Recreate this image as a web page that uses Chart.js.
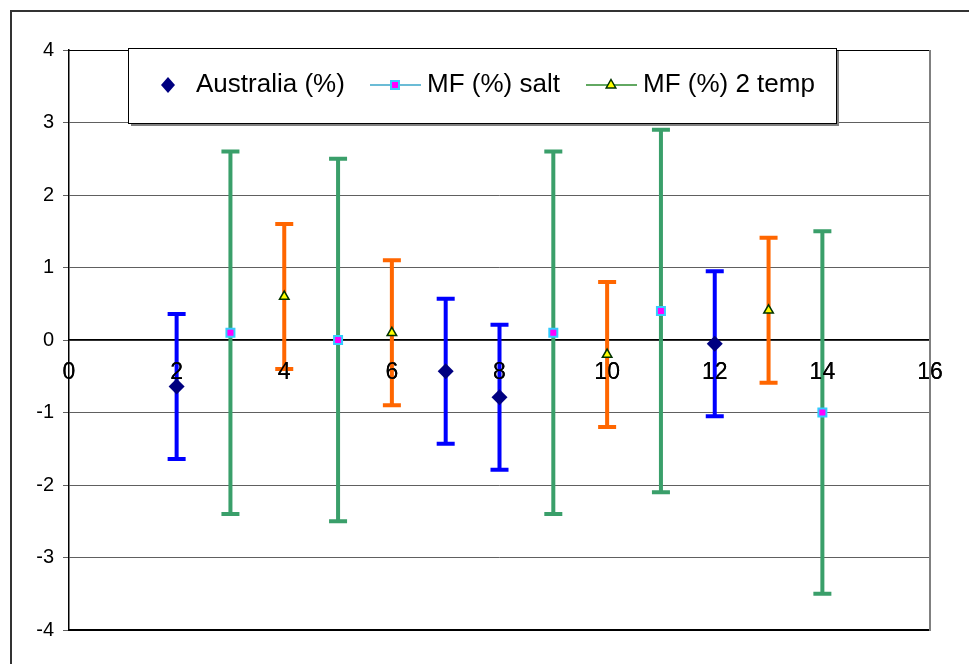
<!DOCTYPE html>
<html>
<head>
<meta charset="utf-8">
<script src="https://cdn.jsdelivr.net/npm/chart.js@4.4.1/dist/chart.umd.min.js"></script>
<style>
  html, body { margin: 0; padding: 0; background: #fff; }
  #wrap { width: 969px; height: 664px; position: relative; }
</style>
</head>
<body>
<div id="wrap"><canvas id="c" width="969" height="664"></canvas></div>
<script>
// ---- data ----
const seriesLabels = ['Australia (%)', 'MF (%) salt', 'MF (%) 2 temp'];
const ausX = [2, 7, 8, 12];
const ausY = [-0.64, -0.43, -0.79, -0.05];
const ausErr = [1, 1, 1, 1];
const saltX = [3, 5, 9, 11, 14];
const saltY = [0.1, 0, 0.1, 0.4, -1];
const saltErr = [2.5, 2.5, 2.5, 2.5, 2.5];
const tempX = [4, 6, 10, 13];
const tempY = [0.6, 0.1, -0.2, 0.41];
const tempErr = [1, 1, 1, 1];
const xTickValues = [0, 2, 4, 6, 8, 10, 12, 14, 16];
const yTickValues = [-4, -3, -2, -1, 0, 1, 2, 3, 4];

const FONT = "'Liberation Sans', Arial, sans-serif";

function pts(xs, ys, es) {
  return xs.map((x, i) => ({ x: x, y: ys[i], err: es[i] }));
}

const errColors = ['#0000FF', '#3A9F6A', '#FF6600'];

const errorBarPlugin = {
  id: 'errorBars',
  beforeDatasetsDraw(chart) {
    const ctx = chart.ctx;
    const xs = chart.scales.x, ys = chart.scales.y;
    ctx.save();
    chart.data.datasets.forEach((ds, di) => {
      ctx.strokeStyle = errColors[di];
      ctx.lineWidth = 4;
      ctx.lineCap = 'butt';
      ds.data.forEach(p => {
        const px = xs.getPixelForValue(p.x);
        const top = ys.getPixelForValue(p.y + p.err);
        const bot = ys.getPixelForValue(p.y - p.err);
        ctx.beginPath();
        ctx.moveTo(px, top);
        ctx.lineTo(px, bot);
        ctx.moveTo(px - 9, top);
        ctx.lineTo(px + 9, top);
        ctx.moveTo(px - 9, bot);
        ctx.lineTo(px + 9, bot);
        ctx.stroke();
      });
    });
    ctx.restore();
    // x tick labels are drawn above the error bars
    chart.scales.x.drawLabels(chart.chartArea);
  }
};

function drawMarker(ctx, kind, x, y) {
  ctx.save();
  if (kind === 0) {
    ctx.fillStyle = '#000080';
    ctx.beginPath();
    ctx.moveTo(x, y - 8); ctx.lineTo(x + 7, y); ctx.lineTo(x, y + 8); ctx.lineTo(x - 7, y);
    ctx.closePath(); ctx.fill();
  } else if (kind === 1) {
    ctx.fillStyle = '#FF00FF';
    ctx.strokeStyle = '#33CCFF';
    ctx.lineWidth = 2;
    ctx.fillRect(x - 4, y - 4, 8, 8);
    ctx.strokeRect(x - 4, y - 4, 8, 8);
  } else {
    ctx.fillStyle = '#FFFF00';
    ctx.strokeStyle = '#003300';
    ctx.lineWidth = 1.5;
    ctx.beginPath();
    ctx.moveTo(x, y - 5.5); ctx.lineTo(x + 4.8, y + 3); ctx.lineTo(x - 4.8, y + 3);
    ctx.closePath(); ctx.fill(); ctx.stroke();
  }
  ctx.restore();
}

const framePlugin = {
  id: 'frame',
  afterDatasetsDraw(chart) {
    const ctx = chart.ctx;
    const a = chart.chartArea;
    ctx.save();
    ctx.strokeStyle = '#000';
    ctx.lineWidth = 1;
    ctx.beginPath(); ctx.moveTo(a.left, a.top + 0.5); ctx.lineTo(a.right, a.top + 0.5); ctx.stroke();
    ctx.lineWidth = 2;
    ctx.beginPath(); ctx.moveTo(a.left, a.bottom); ctx.lineTo(a.right, a.bottom); ctx.stroke();
    ctx.strokeStyle = '#808080';
    ctx.beginPath(); ctx.moveTo(a.right, a.top); ctx.lineTo(a.right, a.bottom + 1); ctx.stroke();
    ctx.restore();
  },
  afterDraw(chart) {
    const ctx = chart.ctx;
    ctx.save();
    // outer frame
    ctx.strokeStyle = '#333';
    ctx.lineWidth = 2;
    ctx.strokeRect(11, 11, 2000, 2000);
    // legend
    const bx = 128, by = 48, bw = 708, bh = 75;
    ctx.fillStyle = '#808080';
    ctx.fillRect(bx + 3, by + 3, bw, bh);
    ctx.fillStyle = '#fff';
    ctx.fillRect(bx, by, bw, bh);
    ctx.strokeStyle = '#000';
    ctx.lineWidth = 1;
    ctx.strokeRect(bx + 0.5, by + 0.5, bw, bh);
    const cy = by + 37;
    ctx.font = '26px ' + FONT;
    ctx.fillStyle = '#000';
    ctx.textBaseline = 'middle';
    ctx.textAlign = 'left';
    drawMarker(ctx, 0, 168, cy);
    ctx.fillText(seriesLabels[0], 196, cy);
    ctx.strokeStyle = '#3AA6C8'; ctx.lineWidth = 1.5;
    ctx.beginPath(); ctx.moveTo(370, cy); ctx.lineTo(421, cy); ctx.stroke();
    drawMarker(ctx, 1, 395, cy);
    ctx.fillStyle = '#000';
    ctx.fillText(seriesLabels[1], 427, cy);
    ctx.strokeStyle = '#2E8B2E'; ctx.lineWidth = 1.5;
    ctx.beginPath(); ctx.moveTo(586, cy); ctx.lineTo(637, cy); ctx.stroke();
    drawMarker(ctx, 2, 611, cy);
    ctx.fillStyle = '#000';
    ctx.fillText(seriesLabels[2], 643, cy);
    ctx.restore();
  }
};

new Chart(document.getElementById('c'), {
  type: 'scatter',
  data: {
    datasets: [
      {
        label: seriesLabels[0],
        data: pts(ausX, ausY, ausErr),
        pointStyle: 'rectRot', radius: 8, hoverRadius: 8,
        backgroundColor: '#000080', borderColor: '#000080', borderWidth: 0
      },
      {
        label: seriesLabels[1],
        data: pts(saltX, saltY, saltErr),
        pointStyle: 'rect', radius: 5.66, hoverRadius: 5.66,
        backgroundColor: '#FF00FF', borderColor: '#33CCFF', borderWidth: 2
      },
      {
        label: seriesLabels[2],
        data: pts(tempX, tempY, tempErr),
        pointStyle: 'triangle', radius: 5.5, hoverRadius: 5.5,
        backgroundColor: '#FFFF00', borderColor: '#003300', borderWidth: 1.5
      }
    ]
  },
  options: {
    responsive: false,
    animation: false,
    devicePixelRatio: 1,
    layout: { padding: { left: 0, top: 50, right: 39, bottom: 34 } },
    plugins: { legend: { display: false }, tooltip: { enabled: false } },
    scales: {
      x: {
        type: 'linear',
        position: { y: 0 },
        min: 0, max: 16,
        afterBuildTicks(scale) { scale.ticks = xTickValues.map(v => ({ value: v })); },
        grid: { display: false, drawTicks: false },
        border: { display: true, color: '#000', width: 1.5 },
        ticks: {
          color: '#000',
          padding: 19,
          maxRotation: 0,
          autoSkip: false,
          font: { family: FONT, size: 23 }
        }
      },
      y: {
        type: 'linear',
        position: 'left',
        min: -4, max: 4,
        afterBuildTicks(scale) { scale.ticks = yTickValues.map(v => ({ value: v })); },
        afterFit(scale) { scale.width = 69; },
        grid: { color: '#606060', lineWidth: 1, tickLength: 6, drawTicks: true },
        border: { display: true, color: '#000', width: 1.5 },
        ticks: {
          color: '#000',
          padding: 9,
          font: { family: FONT, size: 20 }
        }
      }
    }
  },
  plugins: [errorBarPlugin, framePlugin]
});
</script>
</body>
</html>
